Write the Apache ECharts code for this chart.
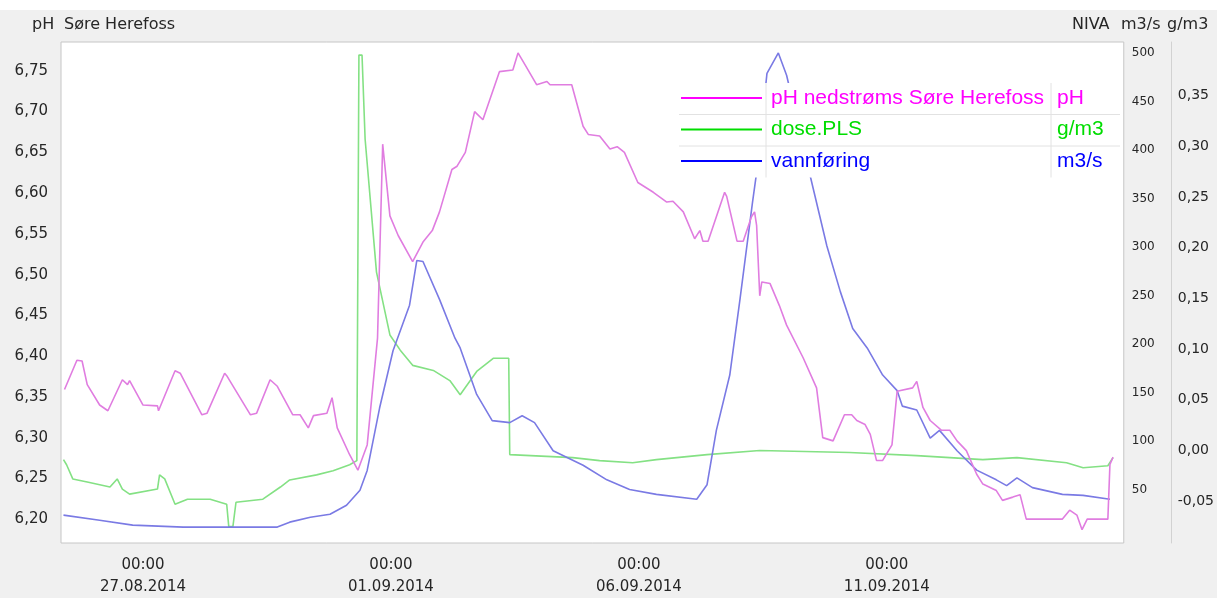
<!DOCTYPE html>
<html><head><meta charset="utf-8">
<script src="https://cdn.jsdelivr.net/npm/echarts@6/dist/echarts.min.js"></script>
<style>html,body{margin:0;padding:0;background:#f0f0f0}#c{width:1217px;height:598px}</style>
</head><body><div id="c"></div><script>
// ---- data (time as hours after 27.08.2014 00:00) ----
const seriesNames = ['pH nedstrøms Søre Herefoss', 'dose.PLS', 'vannføring'];
const seriesUnits = ['pH', 'g/m3', 'm3/s'];
const phHours = [-38,-32,-29.5,-27,-21,-17,-10,-7.5,-6.5,0,7,7.5,15.5,18,28.5,31,39.5,40.5,52,55,61.5,65,72.5,76,80,82.5,89,91.5,94,100,104,108.5,113.5,116,119.5,123.5,130.5,133,135.5,140,143.5,149.5,152,156,160.5,164.5,172.5,179,181.5,185,190.5,195.5,197,207.5,213,215.5,221,226,229.5,233,239.5,247,253.5,256.5,261.5,267,269.5,271,273.5,281.5,282.5,287.5,290.5,294.5,296,297,298.5,299.5,303.5,308,311.5,319.5,326,329,334,339.5,343,345.5,349.5,352,355,358,362.5,365,372.5,374.5,377.5,381,386.5,390.5,394,398.5,403.5,406.5,413,416,421,424.5,427.5,445,448.5,452,454.5,457,467,468,469.5];
const phValues = [6.359,6.395,6.394,6.365,6.340,6.333,6.371,6.365,6.370,6.340,6.339,6.333,6.382,6.379,6.328,6.330,6.379,6.376,6.328,6.330,6.371,6.363,6.328,6.328,6.312,6.327,6.330,6.349,6.312,6.279,6.260,6.291,6.422,6.660,6.572,6.548,6.516,6.528,6.540,6.554,6.577,6.629,6.633,6.650,6.700,6.690,6.749,6.751,6.772,6.757,6.733,6.737,6.733,6.733,6.682,6.672,6.670,6.654,6.657,6.650,6.613,6.601,6.589,6.590,6.577,6.544,6.554,6.541,6.541,6.601,6.596,6.541,6.541,6.571,6.577,6.560,6.474,6.491,6.489,6.462,6.438,6.398,6.361,6.300,6.296,6.328,6.328,6.321,6.316,6.304,6.272,6.272,6.291,6.357,6.361,6.369,6.337,6.321,6.309,6.309,6.296,6.284,6.255,6.243,6.235,6.223,6.227,6.230,6.200,6.200,6.211,6.205,6.187,6.200,6.200,6.267,6.276];
const doseHours = [-38.5,-37,-34,-27,-16,-12.5,-10,-6.5,7,8,10.5,15.5,21.5,32.5,40.5,41.5,43.5,45,58,66.5,71,84,92,100,103.5,104.5,106,107.5,113,119.5,124.5,130.5,140.5,148.5,153.5,161.5,169.5,177,177.5,208,221,237,248.5,273,298.5,342,374.5,406.5,423,447,455,467,469.5];
const doseValues = [-0.009,-0.014,-0.028,-0.031,-0.036,-0.028,-0.038,-0.043,-0.038,-0.024,-0.028,-0.053,-0.048,-0.048,-0.053,-0.075,-0.075,-0.051,-0.048,-0.036,-0.029,-0.024,-0.020,-0.014,-0.010,0.390,0.390,0.307,0.176,0.114,0.099,0.084,0.079,0.069,0.055,0.078,0.091,0.091,-0.004,-0.007,-0.010,-0.012,-0.009,-0.004,0.000,-0.002,-0.005,-0.009,-0.007,-0.012,-0.017,-0.015,-0.007];
const flowHours = [-38.5,-21,-5,19.5,65,71,81,90.5,98.5,105,108.5,114.5,121,129,132.5,135.5,143.5,151,153.5,161.5,169,177.5,183.5,189.5,198.5,213,224.5,235.5,248.5,268,273,277.5,284,289,295,297,302,307.5,311.5,322.5,331,337.5,343.5,350.5,358,365,367.5,374.5,381,385.5,394,403.5,413,418,423,430.5,445,455,468];
const flowValues = [23.6,18.4,13.3,11.3,11.3,16.4,21.5,24.6,33.8,49.2,69.7,134,193,240,286,285,246,206,196,148,121,119,126,119,90,75,60,50,45,40,55,111,168,247,346,377,479,500,477,377,301,254,216,196,168,152,136,132,103,111,90,70,60,54,62,52,45,44,40];
// tick labels
const xTickHours = [0, 120, 240, 360];
const phTicks = [6.20,6.25,6.30,6.35,6.40,6.45,6.50,6.55,6.60,6.65,6.70,6.75];
const flowTicks = [50,100,150,200,250,300,350,400,450,500];
const doseTicks = [-0.05,0.00,0.05,0.10,0.15,0.20,0.25,0.30,0.35];

const H = 3600e3;
const T0 = Date.UTC(2014, 7, 27, 0, 0, 0);
const toData = (hs, vs) => hs.slice(0, Math.min(hs.length, vs.length)).map((h, i) => [h, vs[i]]);
const pad = n => (n < 10 ? '0' : '') + n;
const comma = d => v => v.toFixed(d).replace('.', ',');
const fmtTime = h => { const d = new Date(T0 + h * H); return pad(d.getUTCHours()) + ':' + pad(d.getUTCMinutes()) + '\n' + pad(d.getUTCDate()) + '.' + pad(d.getUTCMonth()+1) + '.' + d.getUTCFullYear(); };

const lineColors = ['#e07de0', '#84e184', '#7a7ae4'];
const legendColors = ['#ff00ff', '#00dd00', '#0000ff'];
const AX = 'DejaVu Sans';
const TXT = '#262626';

const chart = echarts.init(document.getElementById('c'));

const g = [];
g.push({type:'rect', shape:{x:0,y:0,width:1217,height:10}, style:{fill:'#fff'}, z:0, silent:true});
g.push({type:'text', style:{x:32, y:25, text:'pH', font:'16px "DejaVu Sans"', fill:TXT, verticalAlign:'middle'}, z:100});
g.push({type:'text', style:{x:64, y:25, text:'Søre Herefoss', font:'16px "DejaVu Sans"', fill:TXT, verticalAlign:'middle'}, z:100});
g.push({type:'text', style:{x:1072, y:25, text:'NIVA', font:'16px "DejaVu Sans"', fill:TXT, verticalAlign:'middle'}, z:100});
g.push({type:'text', style:{x:1121, y:25, text:'m3/s', font:'16px "DejaVu Sans"', fill:TXT, verticalAlign:'middle'}, z:100});
g.push({type:'text', style:{x:1167, y:25, text:'g/m3', font:'16px "DejaVu Sans"', fill:TXT, verticalAlign:'middle'}, z:100});
// legend table
const LX = 679, LY = 83, LW = 441, RH = 31.5;
g.push({type:'rect', shape:{x:LX, y:LY, width:LW, height:RH*3}, style:{fill:'#fff'}, z:100});
for (let r = 1; r < 3; r++) g.push({type:'line', shape:{x1:LX, y1:LY+RH*r, x2:LX+LW, y2:LY+RH*r}, style:{stroke:'#e2e2e2', lineWidth:1}, z:101});
[766, 1051].forEach(x => g.push({type:'line', shape:{x1:x, y1:LY, x2:x, y2:LY+RH*3}, style:{stroke:'#e2e2e2', lineWidth:1}, z:101}));
seriesNames.forEach((n, i) => {
  const cy = LY + RH * i + 15;
  g.push({type:'line', shape:{x1:681, y1:cy, x2:762, y2:cy}, style:{stroke:legendColors[i], lineWidth:2}, z:102});
  g.push({type:'text', style:{x:771, y:cy, text:n, font:'21px "Liberation Sans"', fill:legendColors[i], verticalAlign:'middle'}, z:102});
  g.push({type:'text', style:{x:1057, y:cy, text:seriesUnits[i], font:'21px "Liberation Sans"', fill:legendColors[i], verticalAlign:'middle'}, z:102});
});

const yBase = {type:'value', splitLine:{show:false}, axisTick:{show:false}};
chart.setOption({
  backgroundColor:'#f0f0f0',
  animation:false,
  grid:{left:61, right:93, top:42, bottom:52, show:true, backgroundColor:'#fff', borderColor:'#c6c6c6', borderWidth:1},
  xAxis:{type:'value', min:-39.7, max:474.7, splitLine:{show:false}, axisTick:{show:false}, axisLine:{show:false},
    axisLabel:{customValues:xTickHours, fontFamily:AX, fontSize:15, color:TXT, lineHeight:22, margin:11, formatter:fmtTime}},
  yAxis:[
    Object.assign({}, yBase, {position:'left', min:6.1707, max:6.7854, axisLine:{show:false},
      axisLabel:{customValues:phTicks, formatter:comma(2), fontFamily:AX, fontSize:15, color:TXT, margin:13}}),
    Object.assign({}, yBase, {position:'right', offset:0, min:-5.1, max:511.3, axisLine:{show:false},
      axisLabel:{customValues:flowTicks, formatter:v => String(Math.round(v)), fontFamily:AX, fontSize:12, color:TXT, margin:8}}),
    Object.assign({}, yBase, {position:'right', offset:47, min:-0.0912, max:0.4029, axisLine:{show:true, lineStyle:{color:'#d2d2d2', width:1}},
      axisLabel:{customValues:doseTicks, formatter:comma(2), fontFamily:AX, fontSize:14, color:TXT, margin:7}})
  ],
  graphic:g,
  series:[
    {name:seriesNames[0], type:'line', yAxisIndex:0, data:toData(phHours, phValues), showSymbol:false, lineStyle:{color:lineColors[0], width:1.6}, itemStyle:{color:lineColors[0]}, z:3},
    {name:seriesNames[1], type:'line', yAxisIndex:2, data:toData(doseHours, doseValues), showSymbol:false, lineStyle:{color:lineColors[1], width:1.6}, itemStyle:{color:lineColors[1]}, z:2},
    {name:seriesNames[2], type:'line', yAxisIndex:1, data:toData(flowHours, flowValues), showSymbol:false, lineStyle:{color:lineColors[2], width:1.6}, itemStyle:{color:lineColors[2]}, z:2}
  ]
});
</script></body></html>
